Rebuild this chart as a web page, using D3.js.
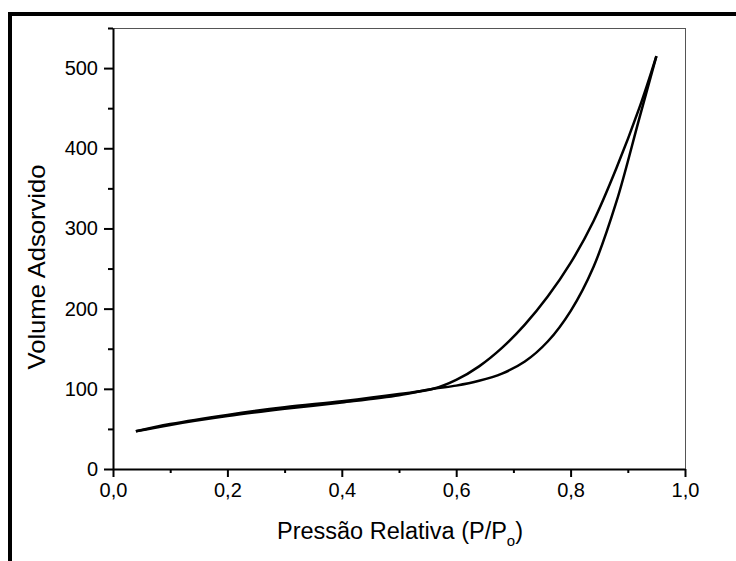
<!DOCTYPE html>
<html>
<head>
<meta charset="utf-8">
<script src="https://cdn.jsdelivr.net/npm/d3@7"></script>
<style>
  body { margin: 0; background: #fff; }
  svg text { font-family: "Liberation Sans", Arial, sans-serif; fill: #000; }
</style>
</head>
<body>
<svg id="chart" width="736" height="561"></svg>
<script>
// adsorption branch (lower curve)
const adsX = [0.04, 0.1, 0.2, 0.3, 0.4, 0.5, 0.56, 0.6, 0.64, 0.68, 0.72, 0.76, 0.8, 0.84, 0.88, 0.92, 0.95];
const adsY = [47, 55, 66, 75, 83, 92, 100, 104, 110, 119, 134, 159, 197, 252, 333, 437, 515];
// desorption branch (upper curve)
const desX = [0.95, 0.92, 0.88, 0.84, 0.8, 0.76, 0.72, 0.68, 0.64, 0.6, 0.56, 0.5, 0.4, 0.3, 0.2, 0.1, 0.04];
const desY = [515, 450, 375, 309, 257, 215, 180, 151, 128, 111, 100, 93.5, 84.5, 77, 67.5, 56, 47];

const xTicks = [0, 0.2, 0.4, 0.6, 0.8, 1.0];
const xMinor = [0.1, 0.3, 0.5, 0.7, 0.9];
const yTicks = [0, 100, 200, 300, 400, 500];
const yMinor = [50, 150, 250, 350, 450, 550];

const svg = d3.select("#chart");
const margin = { left: 113, top: 28, right: 685, bottom: 469 };

const x = d3.scaleLinear().domain([0, 1]).range([margin.left, margin.right]);
const y = d3.scaleLinear().domain([0, 550]).range([margin.bottom, margin.top]);

// outer thick frame (top and left only)
svg.append("line").attr("x1", 8).attr("x2", 736).attr("y1", 14).attr("y2", 14)
  .attr("stroke", "#000").attr("stroke-width", 4);
svg.append("line").attr("x1", 10).attr("x2", 10).attr("y1", 12).attr("y2", 561)
  .attr("stroke", "#000").attr("stroke-width", 4);

// thin top/right frame of plot box
svg.append("line").attr("x1", margin.left).attr("x2", margin.right)
  .attr("y1", margin.top + 0.5).attr("y2", margin.top + 0.5)
  .attr("stroke", "#555").attr("stroke-width", 1);
svg.append("line").attr("x1", margin.right + 0.5).attr("x2", margin.right + 0.5)
  .attr("y1", margin.top).attr("y2", margin.bottom)
  .attr("stroke", "#555").attr("stroke-width", 1);

const fmt = d => d3.format(".1f")(d).replace(".", ",");

// x axis
svg.append("g").attr("transform", `translate(0,${margin.bottom})`)
  .call(d3.axisBottom(x).tickValues(xTicks).tickFormat(fmt).tickSize(8).tickPadding(6).tickSizeOuter(0));
svg.append("g").attr("transform", `translate(0,${margin.bottom})`)
  .call(d3.axisBottom(x).tickValues(xMinor).tickFormat("").tickSize(4).tickSizeOuter(0))
  .select(".domain").remove();

// y axis
svg.append("g").attr("transform", `translate(${margin.left},0)`)
  .call(d3.axisLeft(y).tickValues(yTicks).tickSize(9).tickPadding(6).tickSizeOuter(0));
svg.append("g").attr("transform", `translate(${margin.left},0)`)
  .call(d3.axisLeft(y).tickValues(yMinor).tickFormat("").tickSize(5).tickSizeOuter(0))
  .select(".domain").remove();

svg.selectAll(".domain").attr("stroke", "#000").attr("stroke-width", 2);
svg.selectAll(".tick line").attr("stroke", "#000").attr("stroke-width", 2);
svg.selectAll(".tick text").attr("font-size", 20);

// curves
const line = d3.line().x(d => x(d[0])).y(d => y(d[1])).curve(d3.curveCatmullRom);
const ads = adsX.map((v, i) => [v, adsY[i]]);
const des = desX.map((v, i) => [v, desY[i]]);
[ads, des].forEach(pts => {
  svg.append("path").datum(pts).attr("d", line)
    .attr("fill", "none").attr("stroke", "#000").attr("stroke-width", 2.5)
    .attr("stroke-linejoin", "round");
});

// axis titles
const xt = svg.append("text").attr("x", 400).attr("y", 539)
  .attr("text-anchor", "middle").attr("font-size", 23.5);
xt.append("tspan").text("Pressão Relativa (P/P");
xt.append("tspan").text("o").attr("font-size", 15).attr("dy", 7);
xt.append("tspan").text(")").attr("dy", -7);

svg.append("text").attr("transform", "translate(45,267) rotate(-90)")
  .attr("text-anchor", "middle").attr("font-size", 24)
  .attr("textLength", 205).attr("lengthAdjust", "spacingAndGlyphs")
  .text("Volume Adsorvido");
</script>
</body>
</html>
